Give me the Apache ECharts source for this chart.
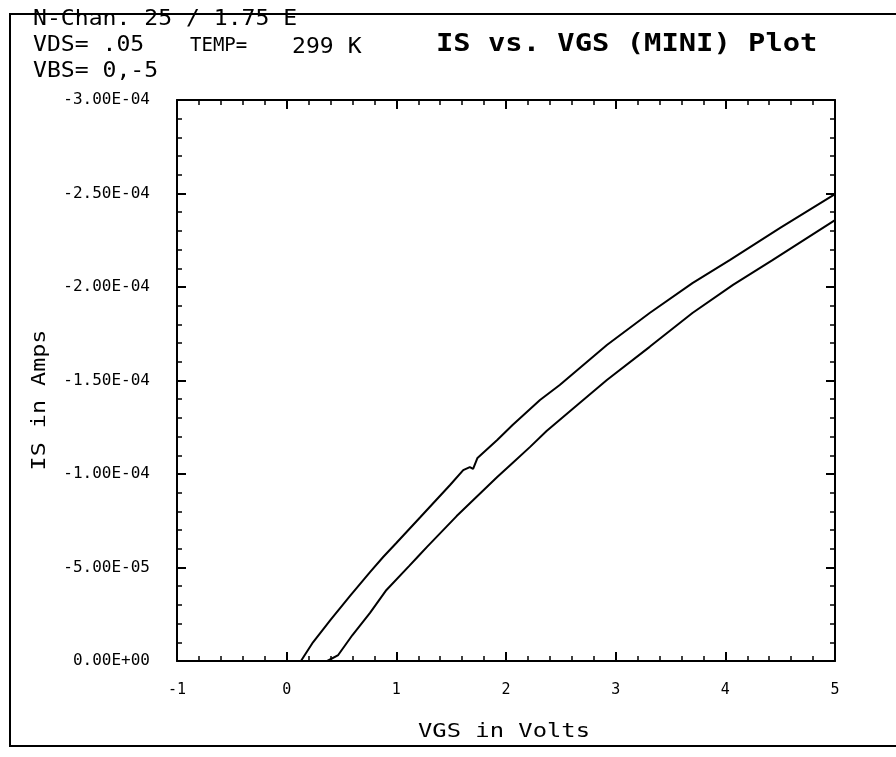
<!DOCTYPE html>
<html>
<head>
<meta charset="utf-8">
<script src="https://cdn.jsdelivr.net/npm/echarts@6/dist/echarts.min.js"></script>
<style>
html,body{margin:0;padding:0;background:#fff;}
#chart{width:896px;height:757px;}
</style>
</head>
<body>
<div id="chart"></div>
<script>
// VGS (Volts) and IS (units of 1e-5 A) for the two VBS curves
const vgsA = [-1, 0.13, 0.24, 0.40, 0.58, 0.76, 0.88, 1.00, 1.22, 1.49, 1.61, 1.67, 1.70, 1.74, 1.92, 2.06, 2.31, 2.49, 2.92, 3.31, 3.70, 4.04, 4.50, 5.00];
const isA  = [0, 0, -1.00, -2.20, -3.50, -4.75, -5.56, -6.31, -7.70, -9.41, -10.21, -10.37, -10.27, -10.86, -11.82, -12.62, -13.96, -14.76, -16.90, -18.61, -20.21, -21.44, -23.16, -24.97];
const vgsB = [-1, 0.37, 0.47, 0.60, 0.76, 0.91, 1.12, 1.20, 1.28, 1.55, 1.92, 2.06, 2.22, 2.37, 2.65, 2.92, 3.31, 3.70, 4.07, 4.43, 5.00];
const isB  = [0, 0, -0.32, -1.39, -2.57, -3.80, -5.10, -5.60, -6.10, -7.75, -9.84, -10.59, -11.45, -12.30, -13.69, -15.03, -16.80, -18.61, -20.11, -21.44, -23.58];
const xTicks = [-1, 0, 1, 2, 3, 4, 5];

const mono = 'DejaVu Sans Mono';
function fmtY(v){
  if (Math.abs(v) < 1e-9) return '0.00E+00';
  const s = (v * 1e-5).toExponential(2).toUpperCase(); // e.g. -3.00E-4
  return s.replace(/E([+-])(\d)$/, 'E$10$2');
}
function pairs(xs, ys){ return xs.map((x,i)=>[x, ys[i]]); }

const chart = echarts.init(document.getElementById('chart'));
const axisLineStyle = {color:'#000', width:2};
const baseX = {
  type:'value', min:xTicks[0], max:xTicks[xTicks.length-1], interval:1,
  axisLine:{show:true, onZero:false, lineStyle:axisLineStyle},
  axisTick:{show:true, inside:true, length:9, lineStyle:{color:'#000', width:2}},
  minorTick:{show:true, splitNumber:5, length:5, lineStyle:{color:'#000', width:1.5}},
  splitLine:{show:false}
};
const baseY = {
  type:'value', min:-30, max:0, interval:5, inverse:true,
  axisLine:{show:true, onZero:false, lineStyle:axisLineStyle},
  axisTick:{show:true, inside:true, length:9, lineStyle:{color:'#000', width:2}},
  minorTick:{show:true, splitNumber:5, length:5, lineStyle:{color:'#000', width:1.5}},
  splitLine:{show:false}
};

chart.setOption({
  backgroundColor:'#fff',
  animation:false,
  grid:{left:177, right:61, top:100, bottom:96},
  xAxis:[
    Object.assign({}, baseX, {
      position:'bottom',
      axisLabel:{show:true, margin:22, fontFamily:mono, fontSize:15, color:'#000'}
    }),
    Object.assign({}, baseX, {position:'top', axisLabel:{show:false}})
  ],
  yAxis:[
    Object.assign({}, baseY, {
      position:'left',
      axisLabel:{show:true, margin:27, fontFamily:mono, fontSize:16, color:'#000', formatter:fmtY}
    }),
    Object.assign({}, baseY, {position:'right', axisLabel:{show:false}})
  ],
  graphic:[
    {type:'rect', shape:{x:10, y:14, width:900, height:732}, style:{fill:'none', stroke:'#000', lineWidth:2}, silent:true},
    {type:'text', x:33, y:20, scaleX:1.1, style:{text:'N-Chan. 25 / 1.75 E', font:'21px "DejaVu Sans Mono"', fill:'#000', textVerticalAlign:'middle'}},
    {type:'text', x:33, y:46, scaleX:1.1, style:{text:'VDS= .05', font:'21px "DejaVu Sans Mono"', fill:'#000', textVerticalAlign:'middle'}},
    {type:'text', x:190, y:46, scaleX:1.0, style:{text:'TEMP=', font:'19px "DejaVu Sans Mono"', fill:'#000', textVerticalAlign:'middle'}},
    {type:'text', x:292, y:48, scaleX:1.1, style:{text:'299 K', font:'21px "DejaVu Sans Mono"', fill:'#000', textVerticalAlign:'middle'}},
    {type:'text', x:33, y:72, scaleX:1.1, style:{text:'VBS= 0,-5', font:'21px "DejaVu Sans Mono"', fill:'#000', textVerticalAlign:'middle'}},
    {type:'text', x:436, y:45, scaleX:1.2, style:{text:'IS vs. VGS (MINI) Plot', font:'bold 24px "DejaVu Sans Mono"', fill:'#000', textVerticalAlign:'middle'}},
    {type:'text', x:504, y:732, scaleX:1.19, style:{text:'VGS in Volts', font:'20px "DejaVu Sans Mono"', fill:'#000', textAlign:'center', textVerticalAlign:'middle'}},
    {type:'text', x:40, y:400, rotation:Math.PI/2, scaleX:1.17, style:{text:'IS in Amps', font:'20px "DejaVu Sans Mono"', fill:'#000', textAlign:'center', textVerticalAlign:'middle'}}
  ],
  series:[
    {type:'line', name:'VBS=0', data:pairs(vgsA, isA), showSymbol:false, lineStyle:{color:'#000', width:2}, xAxisIndex:0, yAxisIndex:0},
    {type:'line', name:'VBS=-5', data:pairs(vgsB, isB), showSymbol:false, lineStyle:{color:'#000', width:2}, xAxisIndex:0, yAxisIndex:0}
  ]
});
</script>
</body>
</html>
